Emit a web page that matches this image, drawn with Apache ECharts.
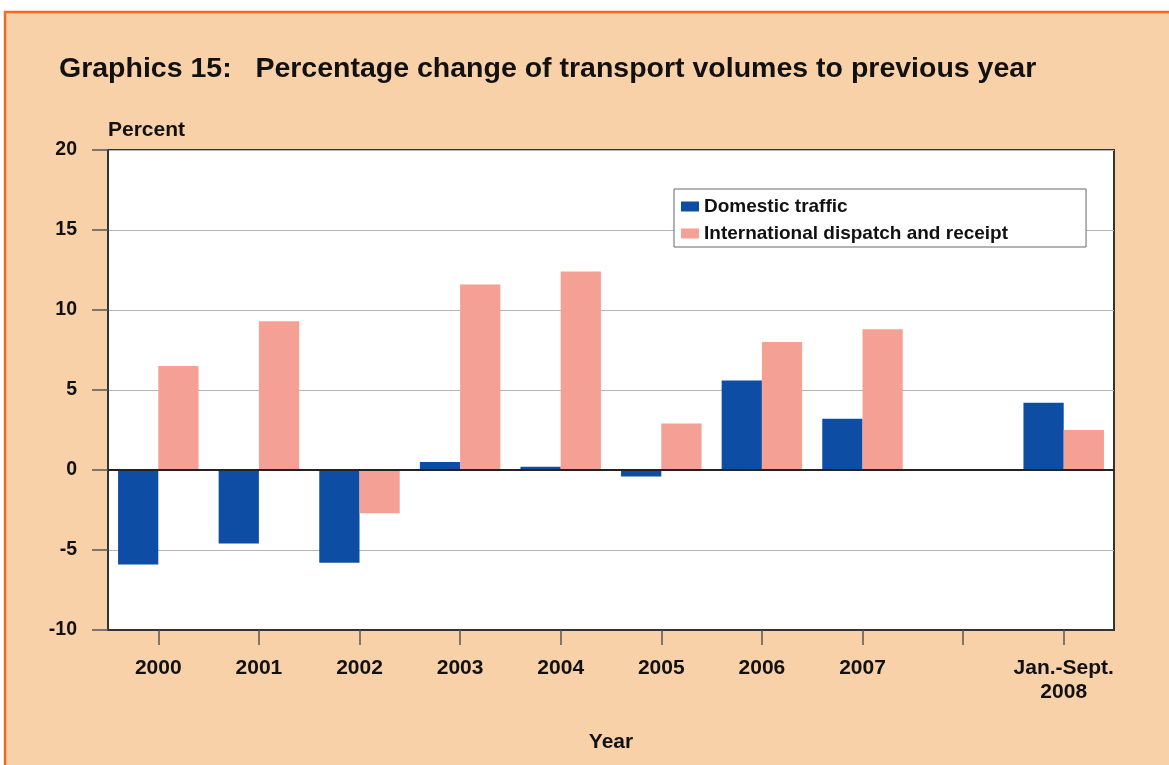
<!DOCTYPE html>
<html>
<head>
<meta charset="utf-8">
<script src="https://cdn.jsdelivr.net/npm/echarts@6/dist/echarts.min.js"></script>
<style>
html,body{margin:0;padding:0;background:#fff;}
#chart{width:1169px;height:765px;}
</style>
</head>
<body>
<div id="chart"></div>
<script>
var categories = ['2000','2001','2002','2003','2004','2005','2006','2007','','Jan.-Sept.\n2008'];
var domestic = [-5.9, -4.6, -5.8, 0.5, 0.2, -0.4, 5.6, 3.2, null, 4.2];
var international = [6.5, 9.3, -2.7, 11.6, 12.4, 2.9, 8.0, 8.8, null, 2.5];
var yTicks = {min: -10, max: 20, interval: 5};

var FONT = '"Liberation Sans", Arial, sans-serif';
var chart = echarts.init(document.getElementById('chart'), null, {renderer: 'canvas'});
chart.setOption({
  backgroundColor: '#ffffff',
  animation: false,
  graphic: [{
    type: 'rect', z: -10, silent: true,
    shape: {x: 5, y: 12, width: 1180, height: 770},
    style: {fill: '#F9D1A9', stroke: '#F06A25', lineWidth: 2.5}
  }],
  title: {
    text: 'Graphics 15:   Percentage change of transport volumes to previous year',
    left: 54, top: 50,
    textStyle: {fontFamily: FONT, fontWeight: 'bold', fontSize: 28.5, color: '#111'}
  },
  legend: {
    orient: 'vertical',
    left: 674, top: 189,
    backgroundColor: '#ffffff',
    borderColor: '#666', borderWidth: 1,
    padding: [8, 78, 4, 7],
    icon: 'rect',
    itemWidth: 18, itemHeight: 10, itemGap: 8,
    textStyle: {fontFamily: FONT, fontWeight: 'bold', fontSize: 19, color: '#111'},
    data: ['Domestic traffic', 'International dispatch and receipt']
  },
  grid: {
    left: 108, top: 150, width: 1006, height: 480,
    show: true, backgroundColor: '#ffffff', borderColor: '#333', borderWidth: 2
  },
  xAxis: {
    type: 'category',
    data: categories,
    name: 'Year', nameLocation: 'middle', nameGap: 102,
    nameTextStyle: {fontFamily: FONT, fontWeight: 'bold', fontSize: 21, color: '#111'},
    axisLine: {onZero: false, lineStyle: {color: '#333', width: 2}},
    axisTick: {show: true, interval: 0, alignWithLabel: true, length: 15, lineStyle: {color: '#555', width: 1.5}},
    axisLabel: {show: true, margin: 26, interval: 0, fontFamily: FONT, fontWeight: 'bold', fontSize: 21, color: '#111', lineHeight: 24},
    splitLine: {show: false}
  },
  yAxis: {
    type: 'value',
    min: yTicks.min, max: yTicks.max, interval: yTicks.interval,
    name: 'Percent', nameLocation: 'end', nameGap: 9,
    nameTextStyle: {fontFamily: FONT, fontWeight: 'bold', fontSize: 21, color: '#111', align: 'left', verticalAlign: 'bottom'},
    axisLine: {show: true, lineStyle: {color: '#333', width: 2}},
    axisTick: {show: true, inside: false, length: 16, lineStyle: {color: '#555', width: 1.5}},
    axisLabel: {margin: 31, fontFamily: FONT, fontWeight: 'bold', fontSize: 19.5, color: '#111'},
    splitLine: {show: true, lineStyle: {color: '#b5b5b5', width: 1.2}}
  },
  series: [{
    name: 'Domestic traffic', type: 'bar',
    data: domestic,
    barGap: '0%', barCategoryGap: '20%',
    itemStyle: {color: '#0E4DA4'},
    markLine: {
      silent: true, symbol: 'none', label: {show: false},
      lineStyle: {color: '#222', width: 2, type: 'solid'},
      data: [{yAxis: 0}]
    }
  }, {
    name: 'International dispatch and receipt', type: 'bar',
    data: international,
    barGap: '0%', barCategoryGap: '20%',
    itemStyle: {color: '#F4A095'}
  }]
});
</script>
</body>
</html>
